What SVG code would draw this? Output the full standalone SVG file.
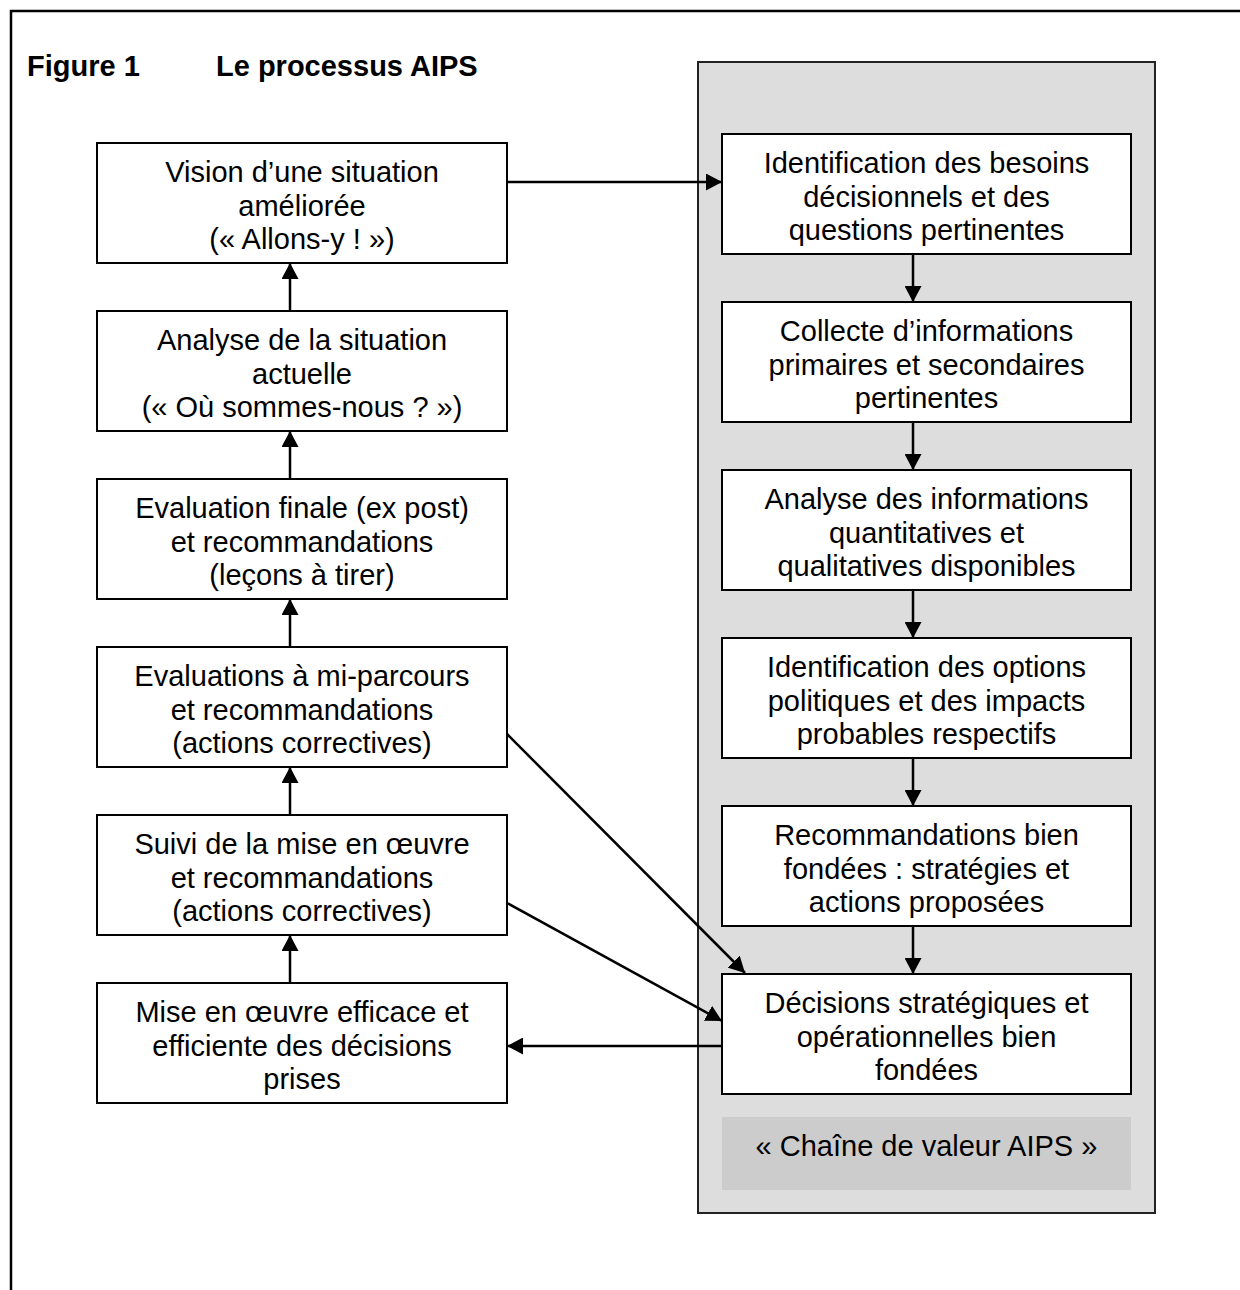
<svg xmlns="http://www.w3.org/2000/svg" width="1240" height="1290" viewBox="0 0 1240 1290">
<style>
.bx{fill:#fff;stroke:#000;stroke-width:2}
.t{font-family:"Liberation Sans",Arial,sans-serif;font-size:29px;fill:#000;text-anchor:middle}
.ttl{font-family:"Liberation Sans",Arial,sans-serif;font-size:29px;font-weight:bold;fill:#000}
.c{stroke:#000;stroke-width:2.5;fill:none;marker-end:url(#ah)}
</style>
<defs>
<marker id="ah" markerUnits="userSpaceOnUse" markerWidth="17" markerHeight="17" refX="16" refY="8.5" orient="auto" viewBox="0 0 17 17">
<path d="M0,0 L16,8.5 L0,17 z" fill="#000"/>
</marker>
</defs>
<rect width="1240" height="1290" fill="#fff"/>
<path d="M11,1290 L11,11 L1240,11" fill="none" stroke="#000" stroke-width="2.5"/>
<text class="ttl" x="27" y="76">Figure 1</text>
<text class="ttl" x="216" y="76">Le processus AIPS</text>

<g id="panel">
<rect x="698" y="62" width="457" height="1151" fill="#ddd" stroke="#222" stroke-width="2"/>
</g>

<g id="n1"><rect class="bx" x="97" y="143" width="410" height="120"/>
<text class="t" x="302" y="182">Vision d’une situation</text><text class="t" x="302" y="215.5">améliorée</text><text class="t" x="302" y="249">(« Allons-y ! »)</text></g>
<g id="n2"><rect class="bx" x="97" y="311" width="410" height="120"/>
<text class="t" x="302" y="350">Analyse de la situation</text><text class="t" x="302" y="383.5">actuelle</text><text class="t" x="302" y="417">(« Où sommes-nous ? »)</text></g>
<g id="n3"><rect class="bx" x="97" y="479" width="410" height="120"/>
<text class="t" x="302" y="518">Evaluation finale (ex post)</text><text class="t" x="302" y="551.5">et recommandations</text><text class="t" x="302" y="585">(leçons à tirer)</text></g>
<g id="n4"><rect class="bx" x="97" y="647" width="410" height="120"/>
<text class="t" x="302" y="686">Evaluations à mi-parcours</text><text class="t" x="302" y="719.5">et recommandations</text><text class="t" x="302" y="753">(actions correctives)</text></g>
<g id="n5"><rect class="bx" x="97" y="815" width="410" height="120"/>
<text class="t" x="302" y="854">Suivi de la mise en œuvre</text><text class="t" x="302" y="887.5">et recommandations</text><text class="t" x="302" y="921">(actions correctives)</text></g>
<g id="n6"><rect class="bx" x="97" y="983" width="410" height="120"/>
<text class="t" x="302" y="1022">Mise en œuvre efficace et</text><text class="t" x="302" y="1055.5">efficiente des décisions</text><text class="t" x="302" y="1089">prises</text></g>

<g id="r1"><rect class="bx" x="722" y="134" width="409" height="120"/>
<text class="t" x="926.5" y="173">Identification des besoins</text><text class="t" x="926.5" y="206.5">décisionnels et des</text><text class="t" x="926.5" y="240">questions pertinentes</text></g>
<g id="r2"><rect class="bx" x="722" y="302" width="409" height="120"/>
<text class="t" x="926.5" y="341">Collecte d’informations</text><text class="t" x="926.5" y="374.5">primaires et secondaires</text><text class="t" x="926.5" y="408">pertinentes</text></g>
<g id="r3"><rect class="bx" x="722" y="470" width="409" height="120"/>
<text class="t" x="926.5" y="509">Analyse des informations</text><text class="t" x="926.5" y="542.5">quantitatives et</text><text class="t" x="926.5" y="576">qualitatives disponibles</text></g>
<g id="r4"><rect class="bx" x="722" y="638" width="409" height="120"/>
<text class="t" x="926.5" y="677">Identification des options</text><text class="t" x="926.5" y="710.5">politiques et des impacts</text><text class="t" x="926.5" y="744">probables respectifs</text></g>
<g id="r5"><rect class="bx" x="722" y="806" width="409" height="120"/>
<text class="t" x="926.5" y="845">Recommandations bien</text><text class="t" x="926.5" y="878.5">fondées : stratégies et</text><text class="t" x="926.5" y="912">actions proposées</text></g>
<g id="r6"><rect class="bx" x="722" y="974" width="409" height="120"/>
<text class="t" x="926.5" y="1013">Décisions stratégiques et</text><text class="t" x="926.5" y="1046.5">opérationnelles bien</text><text class="t" x="926.5" y="1080">fondées</text></g>
<g id="caption"><rect x="722" y="1117" width="409" height="73" fill="#ccc"/>
<text class="t" x="926.5" y="1156">« Chaîne de valeur AIPS »</text></g>

<g id="connectors">
<line class="c" x1="290" y1="311" x2="290" y2="263"/>
<line class="c" x1="290" y1="479" x2="290" y2="431"/>
<line class="c" x1="290" y1="647" x2="290" y2="599"/>
<line class="c" x1="290" y1="815" x2="290" y2="767"/>
<line class="c" x1="290" y1="983" x2="290" y2="935"/>
<line class="c" x1="507" y1="182" x2="722" y2="182"/>
<line class="c" x1="913" y1="254" x2="913" y2="302"/>
<line class="c" x1="913" y1="422" x2="913" y2="470"/>
<line class="c" x1="913" y1="590" x2="913" y2="638"/>
<line class="c" x1="913" y1="758" x2="913" y2="806"/>
<line class="c" x1="913" y1="926" x2="913" y2="974"/>
<line class="c" x1="507" y1="734" x2="745" y2="973"/>
<line class="c" x1="507" y1="903" x2="722" y2="1021"/>
<line class="c" x1="722" y1="1046" x2="507" y2="1046"/>
</g>
</svg>
